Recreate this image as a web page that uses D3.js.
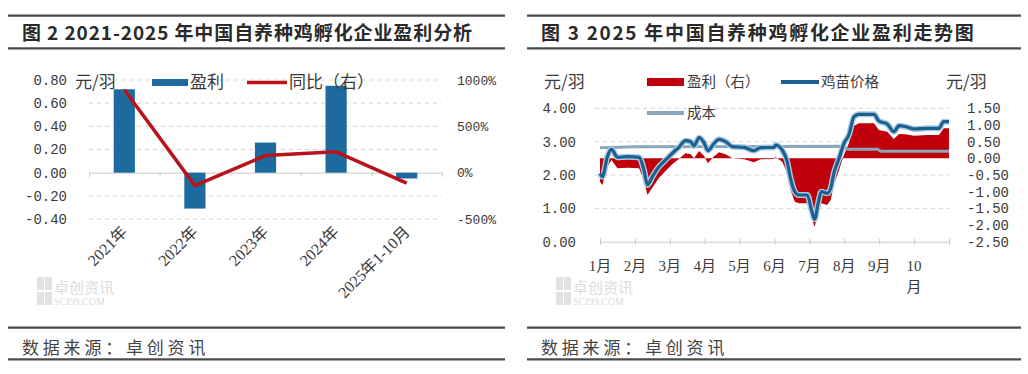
<!DOCTYPE html>
<html>
<head>
<meta charset="utf-8">
<style>
html, body { margin: 0; padding: 0; background: #fff; }
svg { display: block; }
text { fill: #3a3a3a; }
.cjk { font-family: "Noto Sans CJK SC", sans-serif; }
.num { font-family: "Liberation Mono", monospace; font-size: 14px; }
</style>
<script src="https://cdn.jsdelivr.net/npm/d3@7"></script>
</head>
<body>
<script>
// figure 2 - yearly profit and yoy
var years = ["2021年", "2022年", "2023年", "2024年", "2025年1-10月"];
var yearProfit = [0.72, -0.31, 0.26, 0.75, -0.05];
var yearYoy = [895, -140, 185, 225, -112];
var profitTicks = [0.8, 0.6, 0.4, 0.2, 0, -0.2, -0.4];
var yoyTicks = [1000, 500, 0, -500];

// figure 3 - 2025 trend, x is month position (0 = start of Jan)
var months = ["1月", "2月", "3月", "4月", "5月", "6月", "7月", "8月", "9月", "10月"];
var monthPos = [0.00, 0.07, 0.21, 0.33, 0.50, 0.78, 1.12, 1.26, 1.36, 1.50,
  1.69, 1.88, 2.07, 2.26, 2.45, 2.60, 2.69, 2.84, 2.98, 3.09,
  3.27, 3.41, 3.60, 3.79, 4.13, 4.41, 4.60, 4.99, 5.03, 5.22,
  5.35, 5.46, 5.58, 5.70, 5.94, 6.06, 6.15, 6.25, 6.34, 6.51,
  6.61, 6.70, 6.85, 6.99, 7.13, 7.28, 7.42, 7.85, 7.99, 8.23,
  8.42, 8.57, 8.76, 9.00, 9.38, 9.71, 9.85, 10.00];
var chickPrice = [2.05, 1.95, 2.55, 2.77, 2.53, 2.55, 2.53, 2.15, 1.70, 1.95,
  2.25, 2.45, 2.65, 2.83, 3.03, 3.00, 2.87, 3.12, 2.97, 2.73,
  2.95, 3.07, 3.00, 2.85, 2.83, 2.73, 2.82, 2.83, 2.90, 2.75,
  2.45, 1.90, 1.50, 1.40, 1.40, 0.95, 0.67, 1.15, 1.50, 1.45,
  1.60, 2.05, 2.50, 2.95, 3.20, 3.75, 3.82, 3.82, 3.62, 3.53,
  3.30, 3.48, 3.45, 3.38, 3.40, 3.40, 3.60, 3.60];
var dailyProfit = [-0.70, -0.80, -0.25, -0.05, -0.30, -0.28, -0.30, -0.68, -1.10, -0.88,
  -0.58, -0.38, -0.18, -0.02, 0.15, 0.12, 0.00, 0.22, 0.08, -0.15,
  0.06, 0.18, 0.12, 0.00, -0.03, -0.12, -0.03, -0.02, 0.04, -0.10,
  -0.40, -0.95, -1.30, -1.35, -1.35, -1.80, -2.05, -1.65, -1.35, -1.40,
  -1.25, -0.80, -0.35, 0.10, 0.45, 0.98, 1.05, 1.05, 0.85, 0.80,
  0.58, 0.73, 0.72, 0.68, 0.70, 0.70, 0.90, 0.90];
var costPos = [0, 1.0, 6.95, 7.1, 7.95, 8.05, 10.0];
var cost = [2.82, 2.85, 2.86, 2.77, 2.77, 2.71, 2.71];
var priceTicks = [0, 1, 2, 3, 4];
var dailyProfitTicks = [1.5, 1, 0.5, 0, -0.5, -1, -1.5, -2, -2.5];

var W = 1028, H = 374;
var svg = d3.select("body").append("svg").attr("width", W).attr("height", H);

var frame = function(x0, x1, title, spacing) {
  var g = svg.append("g");
  [15.7, 48.3, 327.7, 359.3].forEach(function(y) {
    g.append("line").attr("x1", x0).attr("x2", x1).attr("y1", y).attr("y2", y)
      .attr("stroke", "#4a4a4a").attr("stroke-width", 2.2);
  });
  g.append("text").attr("class", "cjk").attr("x", x0 + 14).attr("y", 39.5)
    .style("font-size", "19px").style("font-weight", 700).style("letter-spacing", spacing)
    .style("fill", "#2a2a2a").text(title);
  g.append("text").attr("class", "cjk").attr("x", x0 + 14).attr("y", 354)
    .style("font-size", "17px").style("letter-spacing", "3.8px").style("fill", "#444")
    .text("数据来源：卓创资讯");
  // faint logo
  var wx = x0 + 29;
  [[0, 0], [8, 0], [0, 15], [8, 15]].forEach(function(p) {
    g.append("rect").attr("x", wx + p[0]).attr("y", 277 + p[1]).attr("width", 7).attr("height", 13)
      .attr("fill", "#e2e2e2");
  });
  g.append("text").attr("class", "cjk").attr("x", wx + 17).attr("y", 293)
    .style("font-size", "15px").style("fill", "#dcdcdc").text("卓创资讯");
  g.append("text").attr("x", wx + 17).attr("y", 305)
    .style("font-family", "Liberation Serif").style("font-size", "10px").style("fill", "#dcdcdc")
    .text("SCI99.COM");
};

frame(8, 505, "图 2 2021-2025 年中国自养种鸡孵化企业盈利分析", "0.9px");
frame(527, 1021, "图 3 2025 年中国自养种鸡孵化企业盈利走势图", "1.7px");

// ---------- figure 2 ----------
var x2 = d3.scaleBand().domain(years).range([89, 442]).paddingInner(0.7).paddingOuter(0.35);
var yL2 = d3.scaleLinear().domain([-0.4, 0.8]).range([219, 80]);
var yR2 = d3.scaleLinear().domain([-500, 1000]).range([219, 80]);
var g2 = svg.append("g");

g2.selectAll(".grid").data(profitTicks.filter(function(d) { return d != 0; }))
  .enter().append("line")
  .attr("x1", 89).attr("x2", 442)
  .attr("y1", function(d) { return yL2(d); }).attr("y2", function(d) { return yL2(d); })
  .attr("stroke", "#d4d4d4").attr("stroke-dasharray", "4,4");

g2.append("g").attr("class", "num")
  .attr("transform", "translate(0," + yL2(0) + ")")
  .call(d3.axisBottom(d3.scaleLinear().domain([0, 5]).range([89, 442])).ticks(5).tickSize(4).tickFormat(""))
  .call(function(a) { a.selectAll("line, path").attr("stroke", "#c8c8c8"); });

g2.append("g").attr("class", "num")
  .attr("transform", "translate(67,0)")
  .call(d3.axisLeft(yL2).tickValues(profitTicks).tickSize(0).tickPadding(0).tickFormat(function(d) {
    return d3.format(".2f")(d).replace("−", "-");
  }))
  .call(function(a) { a.select(".domain").remove(); a.selectAll("text").style("fill", "#3a3a3a"); });

g2.append("g").attr("class", "num")
  .attr("transform", "translate(457,0)")
  .call(d3.axisRight(yR2).tickValues(yoyTicks).tickSize(0).tickPadding(0).tickFormat(function(d) { return d + "%"; }))
  .call(function(a) { a.select(".domain").remove(); a.selectAll("text").style("fill", "#3a3a3a").style("font-size", "13px"); });

g2.selectAll(".bar").data(yearProfit).enter().append("rect")
  .attr("x", function(d, i) { return x2(years[i]); })
  .attr("width", x2.bandwidth())
  .attr("y", function(d) { return yL2(Math.max(0, d)); })
  .attr("height", function(d) { return Math.abs(yL2(d) - yL2(0)); })
  .attr("fill", "#1d6a9e");

var yoyLine = d3.line()
  .x(function(d, i) { return x2(years[i]) + x2.bandwidth() / 2; })
  .y(function(d) { return yR2(d); });
g2.append("path").datum(yearYoy).attr("d", yoyLine)
  .attr("fill", "none").attr("stroke", "#b8121a").attr("stroke-width", 3.5).attr("stroke-linejoin", "round");

g2.selectAll(".xl").data(years).enter().append("text")
  .attr("transform", function(d) {
    return "translate(" + (x2(d) + x2.bandwidth() / 2 + 4) + ",233) rotate(-45)";
  })
  .attr("text-anchor", "end")
  .style("font-family", "Liberation Serif, Noto Sans CJK SC").style("font-size", "16px")
  .text(function(d) { return d; });

// legend
g2.append("text").attr("class", "cjk").attr("x", 75).attr("y", 88).style("font-size", "17px").text("元/羽");
g2.append("rect").attr("x", 152).attr("y", 79).attr("width", 36).attr("height", 7).attr("fill", "#1d6a9e");
g2.append("text").attr("class", "cjk").attr("x", 190).attr("y", 88).style("font-size", "17px").text("盈利");
g2.append("line").attr("x1", 247).attr("x2", 287).attr("y1", 82.5).attr("y2", 82.5)
  .attr("stroke", "#b8121a").attr("stroke-width", 3.5);
g2.append("text").attr("class", "cjk").attr("x", 289).attr("y", 88).style("font-size", "17px").text("同比（右）");

// ---------- figure 3 ----------
var x3 = d3.scaleLinear().domain([0, 10]).range([600, 949]);
var yL3 = d3.scaleLinear().domain([0, 4]).range([241.7, 108.3]);
var yR3 = d3.scaleLinear().domain([-2.5, 1.5]).range([241.7, 108.3]);
var g3 = svg.append("g");

g3.selectAll(".grid").data(priceTicks.filter(function(d) { return d > 0; }))
  .enter().append("line")
  .attr("x1", 595).attr("x2", 950)
  .attr("y1", function(d) { return yL3(d); }).attr("y2", function(d) { return yL3(d); })
  .attr("stroke", "#d4d4d4").attr("stroke-dasharray", "4,4");

g3.append("g")
  .attr("transform", "translate(0," + yL3(0) + ")")
  .call(d3.axisBottom(x3).tickValues(d3.range(0, 11)).tickSize(3).tickFormat(""))
  .call(function(a) { a.selectAll("line, path").attr("stroke", "#c8c8c8"); a.selectAll(".tick line").attr("y1", -3); });

g3.append("g").attr("class", "num")
  .attr("transform", "translate(576,0)")
  .call(d3.axisLeft(yL3).tickValues(priceTicks).tickSize(0).tickPadding(0).tickFormat(d3.format(".2f")))
  .call(function(a) { a.select(".domain").remove(); a.selectAll("text").style("fill", "#3a3a3a"); });

g3.append("g").attr("class", "num")
  .attr("transform", "translate(967,0)")
  .call(d3.axisRight(yR3).tickValues(dailyProfitTicks).tickSize(0).tickPadding(0).tickFormat(function(d) {
    return d3.format(".2f")(d).replace("−", "-");
  }))
  .call(function(a) { a.select(".domain").remove(); a.selectAll("text").style("fill", "#3a3a3a"); });

var profitArea = d3.area()
  .x(function(d, i) { return x3(monthPos[i]); })
  .y0(yR3(0))
  .y1(function(d) { return yR3(d); });
g3.append("path").datum(dailyProfit).attr("d", profitArea).attr("fill", "#c0000b");

var costLine = d3.line()
  .x(function(d, i) { return x3(costPos[i]); })
  .y(function(d) { return yL3(d); });
g3.append("path").datum(cost).attr("d", costLine)
  .attr("fill", "none").attr("stroke", "#8aa6ba").attr("stroke-width", 3);

var priceLine = d3.line()
  .x(function(d, i) { return x3(monthPos[i]); })
  .y(function(d) { return yL3(d); })
  .curve(d3.curveMonotoneX);
g3.append("path").datum(chickPrice).attr("d", priceLine)
  .attr("fill", "none").attr("stroke", "#a6cbe2").attr("stroke-width", 6).attr("stroke-linejoin", "round");
g3.append("path").datum(chickPrice).attr("d", priceLine)
  .attr("fill", "none").attr("stroke", "#1d5f8e").attr("stroke-width", 3.2).attr("stroke-linejoin", "round");

// month labels, "10月" wraps into two lines
g3.selectAll(".ml").data(months).enter().append("text")
  .attr("x", function(d, i) { return x3(i); })
  .attr("y", 271)
  .attr("text-anchor", "middle")
  .style("font-family", "Liberation Serif, Noto Sans CJK SC").style("font-size", "15px")
  .each(function(d) {
    var t = d3.select(this);
    if (d.length > 2) {
      t.append("tspan").attr("x", t.attr("x")).text(d.slice(0, 2));
      t.append("tspan").attr("x", t.attr("x")).attr("dy", 21).text(d.slice(2));
    } else {
      t.text(d);
    }
  });

// legend and units
g3.append("text").attr("class", "cjk").attr("x", 544).attr("y", 88).style("font-size", "17px").text("元/羽");
g3.append("text").attr("class", "cjk").attr("x", 946).attr("y", 88).style("font-size", "17px").text("元/羽");
g3.append("rect").attr("x", 647).attr("y", 78).attr("width", 37).attr("height", 8).attr("fill", "#c0000b");
g3.append("text").attr("class", "cjk").attr("x", 687).attr("y", 87).style("font-size", "14.5px").text("盈利（右）");
g3.append("line").attr("x1", 781).attr("x2", 819).attr("y1", 82).attr("y2", 82)
  .attr("stroke", "#1d5f8e").attr("stroke-width", 4);
g3.append("text").attr("class", "cjk").attr("x", 821).attr("y", 87).style("font-size", "14.5px").text("鸡苗价格");
g3.append("line").attr("x1", 647).attr("x2", 684).attr("y1", 113).attr("y2", 113)
  .attr("stroke", "#8aa6ba").attr("stroke-width", 4);
g3.append("text").attr("class", "cjk").attr("x", 687).attr("y", 118).style("font-size", "14.5px").text("成本");
</script>
</body>
</html>
